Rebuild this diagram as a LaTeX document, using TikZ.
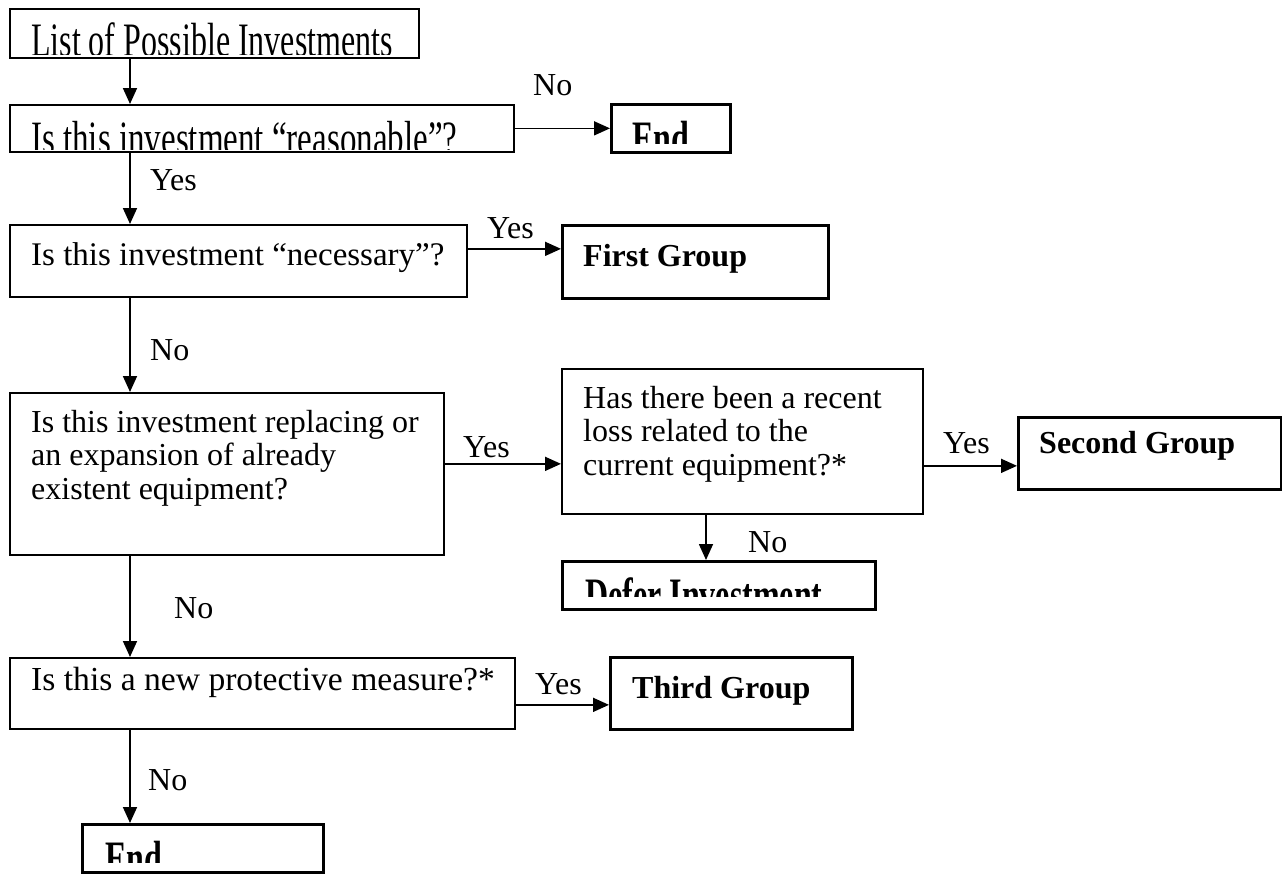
\documentclass[tikz,border=0pt]{standalone}
\usepackage{fontspec}
\setmainfont{Liberation Serif}
\usetikzlibrary{arrows.meta}
\begin{document}
\begin{tikzpicture}[x=1pt,y=-1pt,
  qbox/.style={draw,line width=1.7pt,inner sep=0pt,anchor=north west},
  gbox/.style={draw,line width=2.6pt,inner sep=0pt,anchor=north west},
  txt/.style={inner sep=0pt,anchor=base west,align=left,font=\fontsize{32}{33.5}\selectfont},
  btxt/.style={inner sep=0pt,anchor=base west,font=\fontsize{32}{33.5}\selectfont\bfseries},
  lbl/.style={inner sep=0pt,anchor=base west,font=\fontsize{32}{33.5}\selectfont},
  arr/.style={line width=1.7pt,-{Triangle[length=16pt,width=14pt]}}]
\useasboundingbox (0,0) rectangle (1282,873);

% boxes
\node[qbox,minimum width=409pt,minimum height=49pt] (b1) at (9,8) {};
\node[qbox,minimum width=504pt,minimum height=47pt] (b2) at (9,104) {};
\node[gbox,minimum width=119pt,minimum height=48pt] (e1) at (610,103) {};
\node[qbox,minimum width=457pt,minimum height=72pt] (b3) at (9,224) {};
\node[gbox,minimum width=266pt,minimum height=73pt] (g1) at (561,224) {};
\node[qbox,minimum width=434pt,minimum height=162pt] (b4) at (9,392) {};
\node[qbox,minimum width=361pt,minimum height=145pt] (b5) at (561,368) {};
\node[gbox,minimum width=263pt,minimum height=72pt] (g2) at (1017,416) {};
\node[gbox,minimum width=313pt,minimum height=48pt] (d1) at (561,560) {};
\node[qbox,minimum width=505pt,minimum height=71pt] (b6) at (9,657) {};
\node[gbox,minimum width=242pt,minimum height=72pt] (g3) at (609,656) {};
\node[gbox,minimum width=241pt,minimum height=48pt] (e2) at (81,823) {};

% clipped texts
\begin{scope}
  \clip (9,8) rectangle (418,54);
  \node[lbl] (t1) at (31,56.5) {\scalebox{1}[1.5]{List of Possible Investments}};
\end{scope}
\begin{scope}
  \clip (9,104) rectangle (513,149);
  \node[lbl,font=\fontsize{33}{33.5}\selectfont] (t2) at (31,154.5) {\scalebox{1}[1.45]{Is this investment “reasonable”?}};
\end{scope}
\begin{scope}
  \clip (610,103) rectangle (729,143);
  \node[btxt] (te1) at (632,154.5) {\scalebox{1}[1.5]{End}};
\end{scope}
\begin{scope}
  \clip (561,560) rectangle (874,596);
  \node[btxt] (td) at (585,611.5) {\scalebox{1}[1.5]{Defer Investment}};
\end{scope}
\begin{scope}
  \clip (81,823) rectangle (322,862);
  \node[btxt] (te2) at (105,874.5) {\scalebox{1}[1.5]{End}};
\end{scope}

% texts
\node[txt,font=\fontsize{33}{33.5}\selectfont] (t3) at (31,265) {Is this investment “necessary”?};
\node[txt] (t4) at (31,499) {Is this investment replacing or\\an expansion of already\\existent equipment?};
\node[txt] (t5) at (583,475) {Has there been a recent\\loss related to the\\current equipment?*};
\node[txt,font=\fontsize{33.6}{33.5}\selectfont] (t6) at (31,690) {Is this a new protective measure?*};
\node[btxt] (tg1) at (583,266) {First Group};
\node[btxt] (tg2) at (1039,453) {Second Group};
\node[btxt] (tg3) at (632,698) {Third Group};

% labels
\node[lbl] (l1) at (533,95) {No};
\node[lbl] (l2) at (150,190) {Yes};
\node[lbl] (l3) at (487,238) {Yes};
\node[lbl] (l4) at (150,360) {No};
\node[lbl] (l5) at (463,457) {Yes};
\node[lbl] (l6) at (943,453) {Yes};
\node[lbl] (l7) at (748,552) {No};
\node[lbl] (l8) at (174,618) {No};
\node[lbl] (l9) at (535,694) {Yes};
\node[lbl] (l10) at (148,790) {No};

% connectors
\coordinate (c1) at (130,0);
\coordinate (c2) at (706,0);
\coordinate (a2) at (b2.east);
\coordinate (a4) at ([yshift=12pt]b3.east);
\coordinate (a6) at ([yshift=10pt]b4.east);
\coordinate (a7) at ([yshift=-24.5pt]b5.east);
\coordinate (a10) at ([yshift=-11.5pt]b6.east);
\draw[arr] (b1.south -| c1) -- (b2.north -| c1);
\draw[arr] (a2) -- (a2 -| e1.west);
\draw[arr] (b2.south -| c1) -- (b3.north -| c1);
\draw[arr] (a4) -- (a4 -| g1.west);
\draw[arr] (b3.south -| c1) -- (b4.north -| c1);
\draw[arr] (a6) -- (a6 -| b5.west);
\draw[arr] (a7) -- (a7 -| g2.west);
\draw[arr] (b5.south -| c2) -- (d1.north -| c2);
\draw[arr] (b4.south -| c1) -- (b6.north -| c1);
\draw[arr] (a10) -- (a10 -| g3.west);
\draw[arr] (b6.south -| c1) -- (e2.north -| c1);
\end{tikzpicture}
\end{document}
